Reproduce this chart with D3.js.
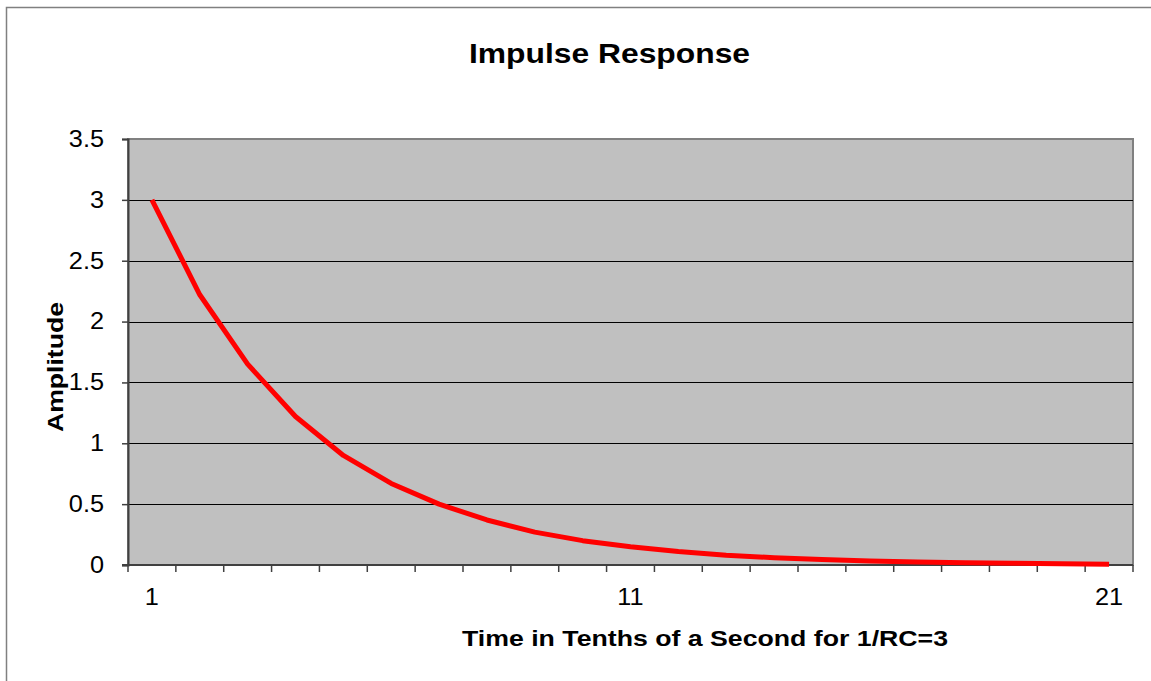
<!DOCTYPE html>
<html>
<head>
<meta charset="utf-8">
<script src="https://cdn.jsdelivr.net/npm/d3@7"></script>
<style>
  body { margin: 0; background: #fff; }
  svg { display: block; font-family: "Liberation Sans", Arial, sans-serif; }
</style>
</head>
<body>
<svg id="chart" width="1151" height="681"></svg>
<script>
// Time steps (tenths of a second) and amplitude
const steps = d3.range(1, 22);
const amplitude = [3.0, 2.22, 1.65, 1.22, 0.90, 0.67, 0.50, 0.37, 0.27, 0.20, 0.15,
                   0.11, 0.08, 0.06, 0.045, 0.033, 0.025, 0.018, 0.014, 0.010, 0.007];
const yTicks = [0, 0.5, 1, 1.5, 2, 2.5, 3, 3.5];
const xLabels = [1, 11, 21];

const svg = d3.select("#chart");
const plot = {left: 128, right: 1133, top: 139, bottom: 565};

// outer chart frame
svg.append("rect")
    .attr("x", 6.5).attr("y", 7.5)
    .attr("width", 1200).attr("height", 700)
    .attr("fill", "#fff").attr("stroke", "#808080").attr("stroke-width", 1.5);

const x = d3.scaleBand().domain(steps).range([plot.left, plot.right]);
const y = d3.scaleLinear().domain([0, 3.5]).range([plot.bottom, plot.top]);

// plot area
svg.append("rect")
    .attr("x", plot.left).attr("y", plot.top)
    .attr("width", plot.right - plot.left).attr("height", plot.bottom - plot.top)
    .attr("fill", "#c0c0c0").attr("stroke", "#808080").attr("stroke-width", 2);

// gridlines
svg.append("g").selectAll("line")
    .data(yTicks.filter(d => d > 0 && d < 3.5))
    .enter().append("line")
    .attr("x1", plot.left).attr("x2", plot.right)
    .attr("y1", d => Math.round(y(d)) + 0.5).attr("y2", d => Math.round(y(d)) + 0.5)
    .attr("stroke", "#000").attr("stroke-width", 1);

// y axis
const yAxis = svg.append("g")
    .attr("transform", `translate(${plot.left},0)`)
    .call(d3.axisLeft(y).tickValues(yTicks).tickSize(6).tickPadding(18).tickFormat(d3.format("")));
yAxis.select(".domain").attr("stroke", "#404040").attr("stroke-width", 2);
yAxis.selectAll(".tick line").attr("stroke", "#404040").attr("stroke-width", 1.5);
yAxis.selectAll("text").attr("font-size", 23).attr("fill", "#000")
    .attr("font-family", "Liberation Sans, Arial, sans-serif");

// x axis: tick marks at category boundaries
const xAxis = svg.append("g").attr("transform", `translate(0,${plot.bottom})`);
xAxis.append("line")
    .attr("x1", plot.left - 6).attr("x2", plot.right)
    .attr("stroke", "#404040").attr("stroke-width", 2);
xAxis.selectAll(".tk")
    .data(steps.concat([22]))
    .enter().append("line")
    .attr("class", "tk")
    .attr("x1", d => (d <= 21 ? x(d) : plot.right))
    .attr("x2", d => (d <= 21 ? x(d) : plot.right))
    .attr("y1", 0).attr("y2", 7)
    .attr("stroke", "#404040").attr("stroke-width", 1.5);
xAxis.selectAll(".lbl")
    .data(xLabels)
    .enter().append("text")
    .attr("class", "lbl")
    .attr("x", d => x(d) + x.bandwidth() / 2)
    .attr("y", 40)
    .attr("text-anchor", "middle")
    .attr("font-size", 23)
    .text(d => d);

// the original chart is stretched sideways a little; widen the tick labels to match
svg.selectAll(".tick text, .lbl").each(function () {
    const w = this.getComputedTextLength();
    d3.select(this).attr("textLength", w * 1.1).attr("lengthAdjust", "spacingAndGlyphs");
});

// series line
const line = d3.line()
    .x((d, i) => x(steps[i]) + x.bandwidth() / 2)
    .y(d => y(d));
svg.append("path")
    .datum(amplitude)
    .attr("d", line)
    .attr("fill", "none")
    .attr("stroke", "#ff0000")
    .attr("stroke-width", 5)
    .attr("stroke-linejoin", "round");

// titles
svg.append("text")
    .attr("x", 469).attr("y", 63)
    .attr("font-size", 28).attr("font-weight", "bold")
    .attr("textLength", 281).attr("lengthAdjust", "spacingAndGlyphs")
    .text("Impulse Response");

svg.append("text")
    .attr("x", 462).attr("y", 646)
    .attr("font-size", 22).attr("font-weight", "bold")
    .attr("textLength", 486).attr("lengthAdjust", "spacingAndGlyphs")
    .text("Time in Tenths of a Second for 1/RC=3");

svg.append("text")
    .attr("transform", "rotate(-90)")
    .attr("x", -432).attr("y", 63)
    .attr("font-size", 22).attr("font-weight", "bold")
    .attr("textLength", 130).attr("lengthAdjust", "spacingAndGlyphs")
    .text("Amplitude");
</script>
</body>
</html>
